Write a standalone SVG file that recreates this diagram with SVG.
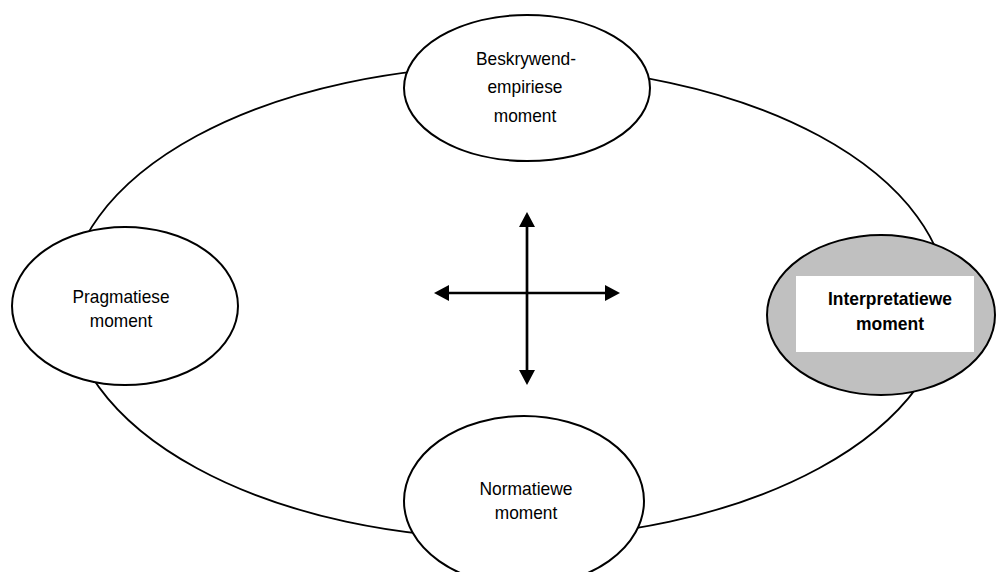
<svg xmlns="http://www.w3.org/2000/svg" width="996" height="572" viewBox="0 0 996 572">
<defs>
<style>
.node{fill:#ffffff;stroke:#000000;stroke-width:2}
.lbl{font-family:"Liberation Sans",Arial,sans-serif;font-size:18.5px;fill:#000000;text-anchor:middle}
.bold{font-weight:bold;font-size:18.5px}
.arr{stroke:#000000;stroke-width:2.7;fill:none;marker-start:url(#ah);marker-end:url(#ah)}
</style>
<marker id="ah" markerUnits="userSpaceOnUse" markerWidth="16" markerHeight="16" refX="5" refY="8" orient="auto-start-reverse" viewBox="0 0 16 16">
<path d="M0,0 L15,8 L0,16 Z" fill="#000000"/>
</marker>
</defs>
<rect width="996" height="572" fill="#ffffff"/>
<g id="cycle">
<path d="M68,304 A440,238 0 0 1 948,304 L948,299 A440,239.5 0 0 1 68,299 Z" fill="none" stroke="#000000" stroke-width="1.8"/>
</g>
<g id="connectors">
<line class="arr" x1="444" y1="293" x2="610" y2="293"/>
<line class="arr" x1="527" y1="222" x2="527" y2="375"/>
</g>
<g id="beskrywend">
<ellipse class="node" cx="527" cy="88" rx="123" ry="73"/>
<text class="lbl" x="526" y="65" textLength="100" lengthAdjust="spacingAndGlyphs">Beskrywend-</text>
<text class="lbl" x="525" y="93" textLength="75" lengthAdjust="spacingAndGlyphs">empiriese</text>
<text class="lbl" x="525" y="122" textLength="62.5" lengthAdjust="spacingAndGlyphs">moment</text>
</g>
<g id="pragmatiese">
<ellipse class="node" cx="125" cy="306" rx="113" ry="79"/>
<text class="lbl" x="121" y="303" textLength="97" lengthAdjust="spacingAndGlyphs">Pragmatiese</text>
<text class="lbl" x="121" y="327" textLength="62.5" lengthAdjust="spacingAndGlyphs">moment</text>
</g>
<g id="interpretatiewe">
<ellipse class="node" cx="881" cy="315" rx="114" ry="80" style="fill:#c0c0c0"/>
<rect x="796" y="276" width="178" height="76" fill="#ffffff"/>
<text class="lbl bold" x="890" y="305" textLength="124" lengthAdjust="spacingAndGlyphs">Interpretatiewe</text>
<text class="lbl bold" x="890" y="330" textLength="68" lengthAdjust="spacingAndGlyphs">moment</text>
</g>
<g id="normatiewe">
<ellipse class="node" cx="524" cy="501" rx="120" ry="85"/>
<text class="lbl" x="526" y="495" textLength="93" lengthAdjust="spacingAndGlyphs">Normatiewe</text>
<text class="lbl" x="526" y="519" textLength="62.5" lengthAdjust="spacingAndGlyphs">moment</text>
</g>
</svg>
